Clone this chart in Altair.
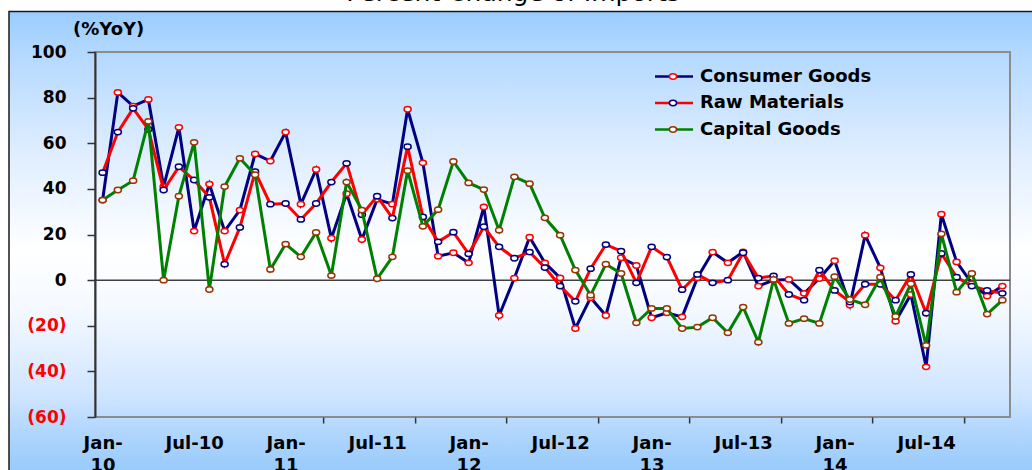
import json
import altair as alt
import pandas as pd

# ---------------- data ----------------
years = ["10", "11", "12", "13", "14"]
mon = ["Jan", "Feb", "Mar", "Apr", "May", "Jun", "Jul", "Aug", "Sep", "Oct", "Nov", "Dec"]
months = [f"{m}-{y}" for y in years for m in mon]

series_names = ["Consumer Goods", "Raw Materials", "Capital Goods"]

consumer = [35.1, 82.3, 76.3, 79.2, 41.0, 67.0, 21.5, 42.1, 21.5, 30.7, 55.3, 52.2,
            64.9, 33.3, 48.5, 18.4, 37.9, 17.8, 35.4, 33.3, 74.9, 51.4, 10.5, 12.0,
            7.6, 32.1, -15.5, 0.9, 18.8, 7.6, 1.0, -21.2, -7.7, -15.5, 9.8, 6.4,
            -16.5, -14.3, -16.1, 1.0, 12.3, 7.6, 12.4, -2.6, 0.0, 0.3, -5.8, 0.7,
            8.5, -10.9, 19.7, 5.4, -18.0, -6.3, -38.0, 28.9, 8.0, -1.5, -7.0, -2.6]

raw = [47.1, 64.9, 75.3, 66.1, 39.5, 49.7, 43.9, 36.3, 7.0, 23.1, 47.5, 33.3,
       33.6, 26.6, 33.6, 43.0, 51.2, 28.7, 36.8, 27.2, 58.5, 27.7, 16.8, 21.0,
       11.5, 23.4, 14.6, 9.6, 12.3, 5.5, -2.6, -9.3, 5.0, 15.6, 12.7, -1.2,
       14.6, 10.1, -4.2, 2.5, -1.2, 0.0, 12.0, 0.9, 1.9, -6.3, -8.8, 4.4,
       -4.5, -9.6, -1.8, -1.8, -8.8, 2.5, -14.5, 11.7, 1.3, -2.6, -4.5, -5.8]

capital = [35.1, 39.5, 43.6, 69.6, 0.0, 36.8, 60.4, -4.1, 41.0, 53.4, 46.2, 4.7,
           15.8, 10.2, 20.9, 2.0, 43.0, 30.7, 0.6, 10.2, 48.0, 23.6, 30.9, 52.0,
           42.6, 39.7, 21.9, 45.3, 42.3, 27.3, 19.7, 4.4, -6.6, 7.0, 2.9, -18.7,
           -12.4, -12.4, -21.2, -20.6, -16.5, -23.1, -11.8, -27.2, 0.3, -19.0, -16.9, -19.0,
           1.5, -8.5, -10.8, 1.3, -15.9, -1.6, -28.6, 20.3, -5.3, 2.9, -14.9, -8.8]

y_ticks = [-60, -40, -20, 0, 20, 40, 60, 80, 100]
x_tick_labels = months[::6]

# ---------------- styles ----------------
line_colors = ["#000080", "#FF0000", "#008000"]
marker_colors = ["#FF0000", "#000080", "#993300"]
W, H = 915, 365
ZERO_PX = H * 100 / 160
ELLIPSE = "M-1,0A1,0.75,0,1,0,1,0A1,0.75,0,1,0,-1,0Z"
FONT = "DejaVu Sans"

rows = []
for name, vals in zip(series_names, [consumer, raw, capital]):
    for i, v in enumerate(vals):
        rows.append({"series": name, "month": months[i], "pos": i + 0.5, "value": v})
df = pd.DataFrame(rows)
one = pd.DataFrame({"k": [0]})

xscale = alt.Scale(domain=[0, 60], nice=False, zero=False)
yscale = alt.Scale(domain=[-60, 100], nice=False, zero=False)

# background frame with gradient
bg = alt.Chart(one).mark_rect(
    fill=alt.Gradient(
        gradient="linear", x1=0, x2=0, y1=0, y2=1,
        stops=[
            alt.GradientStop(color="#99CCFF", offset=0),
            alt.GradientStop(color="#B4D9FF", offset=0.09),
            alt.GradientStop(color="#E0EEFF", offset=0.3),
            alt.GradientStop(color="#FFFFFF", offset=0.5),
            alt.GradientStop(color="#F4F9FF", offset=0.62),
            alt.GradientStop(color="#CFE5FF", offset=0.8),
            alt.GradientStop(color="#B2D7FE", offset=0.87),
            alt.GradientStop(color="#9ACBFB", offset=0.95),
            alt.GradientStop(color="#99CCFF", offset=1),
        ],
    ),
    stroke="#1a1a1a", strokeWidth=1.5,
).encode(x=alt.value(-86), x2=alt.value(960), y=alt.value(-40.5), y2=alt.value(440))

border = alt.Chart(one).mark_rect(fill="transparent", stroke="#8C8C8C", strokeWidth=2).encode(
    x=alt.value(0), x2=alt.value(W), y=alt.value(0), y2=alt.value(H))

y_main = alt.Y("value:Q", scale=yscale, axis=alt.Axis(
    values=y_ticks,
    labelExpr="datum.value < 0 ? '(' + abs(datum.value) + ')' : datum.value + '\u2002'",
    labelColor=alt.condition("datum.value < 0", alt.value("#FF0000"), alt.value("#000000")),
    labelFont=FONT, labelFontWeight="bold", labelFontSize=17, labelPadding=21,
    tickSize=8, tickColor="#333333", tickWidth=1.5, domainColor="#333333", domainWidth=2,
    grid=False, title=None, zindex=1, orient="left"))

# zero line with category tick marks
zero = alt.Chart(pd.DataFrame({"pos": [0, 60], "value": [0, 0]})).mark_line(
    color="#404040", strokeWidth=1.5
).encode(
    x=alt.X("pos:Q", scale=xscale, axis=alt.Axis(
        orient="bottom", position=ZERO_PX, values=list(range(0, 61, 6)), labels=False,
        domain=False, ticks=True, tickSize=6, tickColor="#333333", tickWidth=1.5,
        grid=False, title=None, zindex=1)),
    y=y_main,
)

labs = json.dumps(x_tick_labels)
lab = f"{labs}[floor(datum.value/6)]"
x_label_expr = f"substring({lab},0,3) == 'Jan' ? ['Jan-', substring({lab},4)] : {lab}"

x_main = alt.X("pos:Q", scale=xscale, axis=alt.Axis(
    orient="bottom", values=[0.5 + 6 * k for k in range(10)], labelExpr=x_label_expr,
    ticks=False, domain=False, grid=False, title=None, labelFont=FONT,
    labelFontWeight="bold", labelFontSize=18, labelColor="#000000", labelPadding=17,
    labelLineHeight=22, labelBaseline="top", labelFlush=False, labelOverlap=False, zindex=1))

x_plain = alt.X("pos:Q", scale=xscale, axis=None)

series_layers = []
for k, name in enumerate(series_names):
    sub = alt.Chart(df).transform_filter(alt.datum.series == name)
    xe = x_main if k == 0 else x_plain
    series_layers.append(sub.mark_line(color=line_colors[k], strokeWidth=3).encode(x=xe, y=y_main))
    series_layers.append(sub.mark_point(
        shape=ELLIPSE, filled=True, fill="#FFFFFF", stroke=marker_colors[k],
        strokeWidth=1.5, size=50, opacity=1).encode(x=x_plain, y=y_main))

# legend (manual)
legend_layers = []
for k, name in enumerate(series_names):
    ly = 24.5 + 26.5 * k
    legend_layers.append(alt.Chart(one).mark_rule(color=line_colors[k], strokeWidth=2.5).encode(
        x=alt.value(560), x2=alt.value(598), y=alt.value(ly)))
    legend_layers.append(alt.Chart(one).mark_point(
        shape=ELLIPSE, filled=True, fill="#FFFFFF", stroke=marker_colors[k],
        strokeWidth=1.5, size=50, opacity=1).encode(x=alt.value(578), y=alt.value(ly)))
    legend_layers.append(alt.Chart(one).mark_text(
        text=name, align="left", baseline="middle", font=FONT, fontWeight="bold",
        fontSize=18, color="#000000").encode(x=alt.value(605), y=alt.value(ly)))

unit_label = alt.Chart(one).mark_text(
    text="(%YoY)", align="left", baseline="middle", font=FONT, fontWeight="bold",
    fontSize=18, color="#000000").encode(x=alt.value(-22), y=alt.value(-22.5))

title_txt = alt.Chart(one).mark_text(
    text="Percent Change of Imports", align="center", baseline="alphabetic", font=FONT,
    fontSize=25, color="#000000").encode(x=alt.value(418), y=alt.value(-51.5))

chart = alt.layer(
    bg, border, zero, *series_layers, *legend_layers, unit_label, title_txt
).resolve_axis(x="independent").properties(
    width=W, height=H,
    autosize=alt.AutoSizeParams(type="none"),
    padding={"left": 95, "top": 52, "right": 22, "bottom": 53},
).configure_view(stroke="transparent")

chart.save("out.html", embed_options={"renderer": "svg", "actions": False})
